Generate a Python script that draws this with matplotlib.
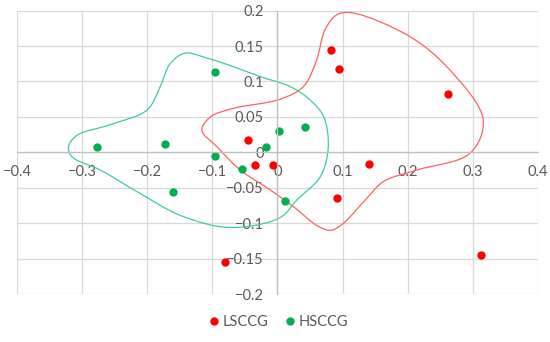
import numpy as np
import matplotlib
matplotlib.use("Agg")
import matplotlib.pyplot as plt
from matplotlib.path import Path
from matplotlib.patches import PathPatch

# points
lsccg_x = [0.082, 0.095, 0.262, -0.045, -0.034, -0.007, 0.140, 0.091, 0.312, -0.080]
lsccg_y = [0.145, 0.117, 0.083, 0.018, -0.018, -0.018, -0.017, -0.064, -0.145, -0.155]

hsccg_x = [-0.277, -0.173, -0.096, -0.096, -0.017, 0.003, 0.043, -0.160, -0.054, 0.011]
hsccg_y = [0.008, 0.012, 0.114, -0.005, 0.007, 0.030, 0.036, -0.056, -0.024, -0.068]

# hand drawn outlines (control points)
red_outline = [(0.114, 0.197), (0.204, 0.163), (0.265, 0.116), (0.316, 0.046), (0.296, -0.001),
               (0.214, -0.025), (0.163, -0.041), (0.137, -0.065), (0.100, -0.101),
               (0.082, -0.110), (0.062, -0.104), (0.025, -0.077), (-0.011, -0.053),
               (-0.057, -0.025), (-0.093, 0.008), (-0.116, 0.031), (-0.103, 0.050),
               (-0.068, 0.062), (0.004, 0.075), (0.040, 0.093), (0.060, 0.130), (0.073, 0.173),
               (0.091, 0.194)]
green_outline = [(-0.142, 0.140), (-0.165, 0.125), (-0.180, 0.093), (-0.200, 0.060), (-0.257, 0.039),
                 (-0.308, 0.024), (-0.321, 0.008), (-0.316, -0.006), (-0.272, -0.025), (-0.211, -0.058),
                 (-0.149, -0.089), (-0.073, -0.106), (0.004, -0.092), (0.030, -0.067), (0.066, -0.034),
                 (0.078, 0.008), (0.071, 0.050), (0.050, 0.074), (0.019, 0.093), (-0.027, 0.107),
                 (-0.068, 0.121), (-0.108, 0.133)]

xticks = [-0.4, -0.3, -0.2, -0.1, 0, 0.1, 0.2, 0.3, 0.4]
yticks = [-0.2, -0.15, -0.1, -0.05, 0, 0.05, 0.1, 0.15, 0.2]
xlabels = ["\u22120.4", "\u22120.3", "\u22120.2", "\u22120.1", "0", "0.1", "0.2", "0.3", "0.4"]
ylabels = ["\u22120.2", "\u22120.15", "\u22120.1", "\u22120.05", "0", "0.05", "0.1", "0.15", "0.2"]


def closed_spline(pts, yscale=1.09):
    # centripetal catmull-rom -> cubic bezier, drawn by matplotlib's Path
    p = np.array(pts, dtype=float)
    q = p * [1.0, yscale]
    n = len(p)
    verts = [p[0]]
    codes = [Path.MOVETO]
    for i in range(n):
        i0, i1, i2, i3 = i - 1, i, (i + 1) % n, (i + 2) % n
        d0 = np.linalg.norm(q[i1] - q[i0]) ** 0.5
        d1 = np.linalg.norm(q[i2] - q[i1]) ** 0.5
        d2 = np.linalg.norm(q[i3] - q[i2]) ** 0.5
        p0, p1, p2, p3 = p[i0], p[i1], p[i2], p[i3]
        m1 = ((p1 - p0) / d0 - (p2 - p0) / (d0 + d1) + (p2 - p1) / d1) * d1
        m2 = ((p2 - p1) / d1 - (p3 - p1) / (d1 + d2) + (p3 - p2) / d2) * d1
        verts += [p1 + m1 / 3, p2 - m2 / 3, p2]
        codes += [Path.CURVE4] * 3
    return Path(verts, codes)


plt.rcParams['font.family'] = ['Lato', 'DejaVu Sans']
fig = plt.figure(figsize=(5.5, 3.42), dpi=100)
ax = fig.add_axes([0.031, 0.140, 0.947, 0.829])
ax.set_xlim(-0.4, 0.4)
ax.set_ylim(-0.2, 0.2)
ax.set_xticks(xticks)
ax.set_yticks(yticks)
ax.set_xticklabels(xlabels)
ax.set_yticklabels(ylabels)
ax.grid(True, color='#d9d9d9', lw=0.9)
ax.set_axisbelow(True)
for s in ['top', 'right']:
    ax.spines[s].set_visible(False)
ax.spines['left'].set_position(('data', 0))
ax.spines['bottom'].set_position(('data', 0))
for s in ['left', 'bottom']:
    ax.spines[s].set_color('#bfbfbf')
    ax.spines[s].set_linewidth(0.9)
ax.tick_params(axis='both', length=0, labelsize=10.5, labelcolor='#595959')
ax.tick_params(axis='y', pad=10)
ax.tick_params(axis='x', pad=9)

ax.add_patch(PathPatch(closed_spline(red_outline), fill=False, ec='#ff6161', lw=0.9))
ax.add_patch(PathPatch(closed_spline(green_outline), fill=False, ec='#3ecf8e', lw=0.9))

ax.plot(lsccg_x, lsccg_y, 'o', color='#ff0000', ms=6, mec='none', label='LSCCG', clip_on=False)
ax.plot(hsccg_x, hsccg_y, 'o', color='#00b050', ms=6, mec='none', label='HSCCG', clip_on=False)

fig.legend(loc='center', bbox_to_anchor=(0.504, 0.058), ncol=2, frameon=False,
           fontsize=10.5, labelcolor='#595959', handletextpad=0.1, columnspacing=1.0,
           handlelength=1.0)

fig.savefig('out.png', dpi=100)
